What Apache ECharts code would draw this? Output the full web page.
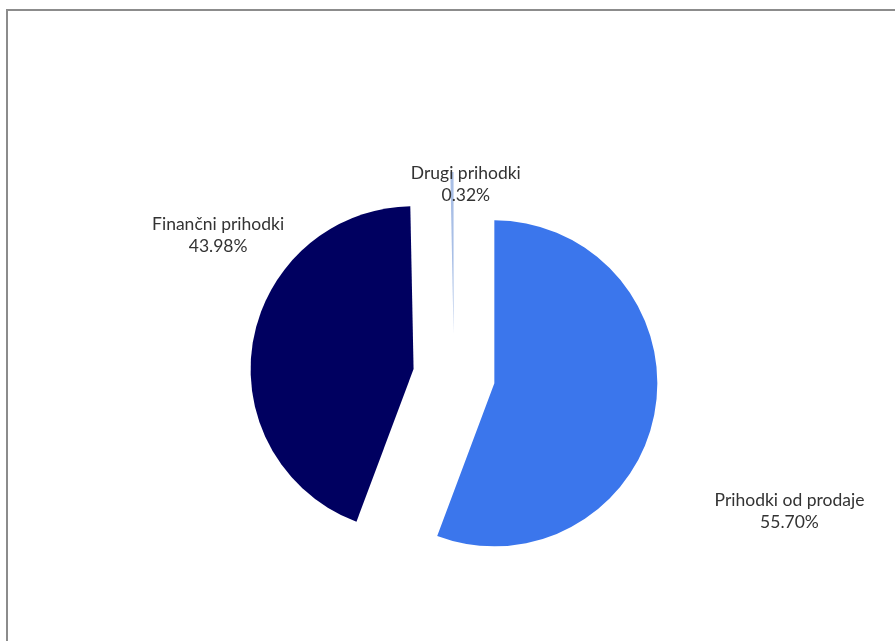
<!DOCTYPE html>
<html>
<head>
<meta charset="utf-8">
<script src="https://cdn.jsdelivr.net/npm/echarts@6/dist/echarts.min.js"></script>
<style>
  html, body { margin: 0; padding: 0; background: #fff; }
  #frame { position: absolute; left: 6px; top: 9px; width: 900px; height: 700px;
           border-left: 2px solid #8c8c8c; border-top: 2px solid #8c8c8c; }
  #chart { position: absolute; left: 0; top: 0; width: 895px; height: 641px; }
</style>
</head>
<body>
<div id="frame"></div>
<div id="chart"></div>
<script>
// Revenue structure (share of total, %)
const categories = ['Prihodki od prodaje', 'Finančni prihodki', 'Drugi prihodki'];
const shares = [55.70, 43.98, 0.32];
const colors = ['#3b76ec', '#000060', '#a9bfe6'];

// fine placement of each label relative to its default outside position
const labelShift = [[85, 96], [15, -104], [49, 27]];

const chart = echarts.init(document.getElementById('chart'), null, { renderer: 'canvas' });

chart.setOption({
  animation: false,
  backgroundColor: 'transparent',
  series: [{
    type: 'pie',
    center: [454, 376],
    radius: [0, 163],
    startAngle: 90,
    clockwise: true,
    selectedMode: 'multiple',
    selectedOffset: 41,
    avoidLabelOverlap: false,
    label: {
      show: true,
      position: 'outside',
      formatter: p => p.name + '\n' + p.value.toFixed(2) + '%',
      fontFamily: 'Lato',
      fontSize: 17.5,
      lineHeight: 22,
      color: '#333'
    },
    labelLine: { show: false },
    labelLayout: p => ({
      align: 'center',
      verticalAlign: 'middle',
      dx: labelShift[p.dataIndex][0],
      dy: labelShift[p.dataIndex][1]
    }),
    emphasis: { disabled: true },
    data: categories.map((name, i) => ({
      name,
      value: shares[i],
      selected: true,
      itemStyle: { color: colors[i] },
      select: { itemStyle: { color: colors[i], borderWidth: 0 } }
    }))
  }]
});
</script>
</body>
</html>
